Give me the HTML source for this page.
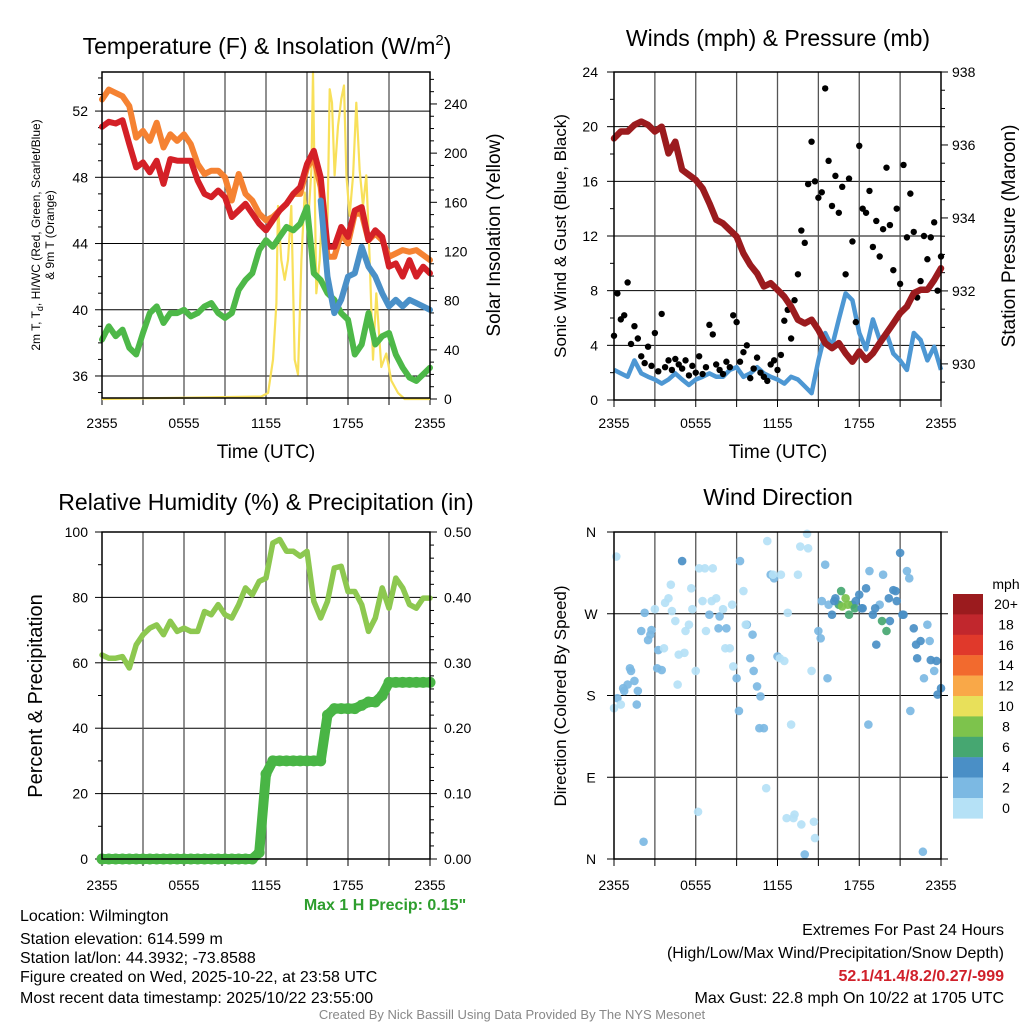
<!DOCTYPE html>
<html><head><meta charset="utf-8">
<style>
html,body{margin:0;padding:0;background:#fff;}
svg{display:block;font-family:"Liberation Sans",Arial,sans-serif;}
</style></head>
<body>
<svg id="chart" width="1024" height="1024" viewBox="0 0 1024 1024" xmlns="http://www.w3.org/2000/svg">
<rect width="1024" height="1024" fill="#fff"/>
<g id="p1"></g>
<g id="p2"></g>
<g id="p3"></g>
<g id="p4"></g>
<g id="txt">
<text x="267" y="54" font-size="23" text-anchor="middle">Temperature (F) &amp; Insolation (W/m<tspan dy="-9" font-size="15">2</tspan><tspan dy="9">)</tspan></text>
<text x="778" y="46" font-size="23" text-anchor="middle">Winds (mph) &amp; Pressure (mb)</text>
<text x="266" y="510" font-size="23" text-anchor="middle">Relative Humidity (%) &amp; Precipitation (in)</text>
<text x="778" y="505" font-size="23" text-anchor="middle">Wind Direction</text>
<text x="266" y="458" font-size="19" text-anchor="middle">Time (UTC)</text>
<text x="778" y="458" font-size="19" text-anchor="middle">Time (UTC)</text>
<text transform="translate(40,235) rotate(-90)" font-size="12" text-anchor="middle">2m T, T<tspan dy="3" font-size="9">d</tspan><tspan dy="-3">, HI/WC (Red, Green, Scarlet/Blue)</tspan></text>
<text transform="translate(54,235) rotate(-90)" font-size="12" text-anchor="middle">&amp; 9m T (Orange)</text>
<text transform="translate(500,235) rotate(-90)" font-size="19" text-anchor="middle">Solar Insolation (Yellow)</text>
<text transform="translate(566,236) rotate(-90)" font-size="17" text-anchor="middle">Sonic Wind &amp; Gust (Blue, Black)</text>
<text transform="translate(1015,236) rotate(-90)" font-size="19" text-anchor="middle">Station Pressure (Maroon)</text>
<text transform="translate(42,696) rotate(-90)" font-size="20" text-anchor="middle">Percent &amp; Precipitation</text>
<text transform="translate(566,696) rotate(-90)" font-size="17" text-anchor="middle">Direction (Colored By Speed)</text>
<text x="385" y="910" font-size="16" font-weight="bold" fill="#2e9e2e" text-anchor="middle">Max 1 H Precip: 0.15"</text>
<g font-size="16" fill="#000">
<text x="20" y="921">Location: Wilmington</text>
<text x="20" y="944">Station elevation: 614.599 m</text>
<text x="20" y="963">Station lat/lon: 44.3932; -73.8588</text>
<text x="20" y="982">Figure created on Wed, 2025-10-22, at 23:58 UTC</text>
<text x="20" y="1003">Most recent data timestamp: 2025/10/22 23:55:00</text>
</g>
<g font-size="16" text-anchor="end">
<text x="1004" y="935">Extremes For Past 24 Hours</text>
<text x="1004" y="958">(High/Low/Max Wind/Precipitation/Snow Depth)</text>
<text x="1004" y="981" font-weight="bold" fill="#d0202a">52.1/41.4/8.2/0.27/-999</text>
<text x="1004" y="1003">Max Gust: 22.8 mph On 10/22 at 1705 UTC</text>
</g>
<text x="512" y="1019" font-size="13" fill="#888" text-anchor="middle">Created By Nick Bassill Using Data Provided By The NYS Mesonet</text>
</g>
</svg>
<script>
const timeLabels = ["2355","0555","1155","1755","2355"];
const tempF = [51.05,51.35,51.25,51.45,50.0,48.6,48.9,48.3,49.0,47.6,49.1,49.0,49.0,49.0,47.8,47.0,46.8,47.2,46.8,45.6,46.0,46.4,45.8,45.2,44.8,45.4,46.0,46.4,47.0,47.4,48.8,49.6,48.0,43.8,43.8,45.0,44.4,46.0,46.2,44.2,44.8,44.4,42.6,42.8,42.0,43.0,42.0,42.6,42.2];
const temp9m = [52.7,53.3,53.1,52.9,52.3,50.4,50.8,50.2,51.3,49.8,50.6,50.2,50.6,50.0,48.8,48.2,48.4,48.4,48.0,46.6,48.2,47.0,46.6,45.8,45.4,45.6,46.0,46.4,47.0,47.0,48.6,49.2,47.4,43.2,43.2,44.6,44.0,45.8,45.8,44.2,44.6,44.2,43.2,43.4,43.6,43.5,43.6,43.3,43.0];
const dewF = [38.2,39.0,38.4,38.8,37.7,37.3,38.6,39.8,40.2,39.2,39.8,39.8,40.0,39.6,39.8,40.2,40.4,39.8,39.5,39.8,41.2,41.8,42.2,43.6,44.2,43.8,44.4,45.0,44.8,45.2,46.2,42.2,41.8,41.0,40.6,39.8,39.4,37.3,37.9,39.8,37.9,38.4,38.6,37.3,36.5,35.9,35.7,36.1,36.5];
const hiwcF = [null,null,null,null,null,null,null,null,null,null,null,null,null,null,null,null,null,null,null,null,null,null,null,null,null,null,null,null,null,null,null,null,46.6,42.0,39.8,40.6,42.0,42.2,43.8,42.6,42.0,41.0,40.2,40.6,40.2,40.6,40.4,40.2,40.0];
const solarHours = [0,11.66,12.15,12.51,12.76,12.88,13.12,13.37,13.61,13.85,14.1,14.34,14.59,14.83,15.07,15.32,15.44,15.68,15.93,16.17,16.41,16.66,16.83,17.02,17.27,17.51,17.71,17.88,18.12,18.37,18.61,18.85,19.1,19.34,19.59,19.83,20.07,20.44,20.8,21.17,21.66,22.15,24];
const solarWm2 = [0,2,5,32,78,157,113,97,113,157,32,20,113,168,141,187,266,86,113,168,86,252,241,182,222,244,255,182,149,182,241,187,157,182,113,32,86,26,37,15,5,0,0];
const windMph = [2.2,1.95,1.7,2.9,1.95,1.7,1.5,1.2,1.5,1.95,1.5,1.1,1.5,1.7,1.95,1.7,1.7,2.2,2.4,1.7,1.95,2.4,1.95,1.7,1.5,1.2,1.7,1.5,1.0,0.5,2.9,4.9,3.9,5.9,7.8,7.3,4.9,3.7,5.9,4.4,4.9,3.4,2.9,2.2,4.9,4.4,2.9,3.9,2.2];
const pressureMb = [936.18,936.37,936.37,936.55,936.64,936.55,936.37,936.50,935.77,936.09,935.32,935.18,935.04,934.81,934.40,933.95,933.85,933.67,933.49,933.03,932.71,932.48,932.12,932.21,932.03,931.84,931.57,931.21,931.11,931.21,930.93,930.57,930.43,930.57,930.29,930.06,930.34,930.11,930.29,930.57,930.84,931.11,931.39,931.57,931.94,932.03,932.03,932.30,932.62];
const gustMph = [4.7,7.8,5.9,6.2,8.6,4.1,5.4,4.5,3.2,2.7,3.9,2.5,4.9,2.1,6.3,2.4,2.9,2.2,3.0,2.6,2.3,2.9,1.8,2.5,2.0,3.2,1.9,2.4,5.5,4.8,2.6,2.2,1.9,2.8,2.4,6.2,5.7,2.8,3.5,4.0,1.6,2.3,3.1,2.0,1.7,1.4,2.6,2.9,2.2,3.3,5.8,6.6,4.5,7.3,9.2,12.4,11.5,15.8,18.9,16.0,14.8,15.2,22.8,17.5,14.2,16.4,13.7,15.6,9.2,16.2,11.6,5.7,18.6,14.0,13.7,15.3,11.2,13.1,10.5,12.5,17.0,12.8,9.5,14.0,8.5,17.2,11.9,15.1,12.3,7.5,8.7,12.0,10.3,11.9,13.0,8.0,10.5];
const rhPct = [62.4,61.4,61.4,61.9,58.4,65.5,68.6,70.6,71.6,68.6,72.7,69.6,70.6,69.6,69.6,75.7,74.7,77.8,74.7,73.7,77.8,82.9,80.8,84.9,85.9,96.6,97.7,94.1,94.1,92.6,94.1,78.8,73.7,78.8,89.0,89.5,81.8,81.8,77.8,69.6,73.7,82.9,76.7,85.9,82.9,77.8,76.7,79.8,79.8];
const precipIn = [0,0,0,0,0,0,0,0,0,0,0,0,0,0,0,0,0,0,0,0,0,0,0,0.01,0.13,0.15,0.15,0.15,0.15,0.15,0.15,0.15,0.15,0.22,0.23,0.23,0.23,0.23,0.235,0.24,0.24,0.25,0.27,0.27,0.27,0.27,0.27,0.27,0.27];
const dirDeg = [166,177,170,185,192,207,196,185,251,271,241,252,275,230,208,282,287,273,262,225,328,251,258,275,207,320,284,251,269,320,287,267,275,254,232,212,199,328,295,258,221,207,190,179,144,350,313,309,223,313,218,271,148,49,313,38,5,342,207,23,251,284,324,280,269,287,280,278,287,269,280,284,291,276,298,317,269,236,280,313,251,262,296,284,337,269,317,163,254,221,240,199,258,219,207,181,188];
const dirSpeed = [1.5,2,1.5,3,2.5,3,3.5,3,3,3,2.5,2.5,1.5,3,3,1,1,1,1,1,4,1,1.5,1,1.5,1,1,1,3,1,1,3,1,3,1,1,3,3,1,2.5,3,2.5,3,3,2.5,1,3,3.5,3,1,1,1,1,1,1,1,3,1,1,1,3,3,3,3.5,4,5,7,8.5,9,7,6.5,5,4.5,4.5,4.5,3.5,4,4.5,3.5,3.5,6.5,4.5,4.5,4.5,4.5,4,3,3,4,4.5,4,3,3,4,3.5,4,4];
const dirDeg2 = [333,188,210,170,19,247,210,232,302,192,227,298,52,320,284,254,232,280,163,258,247,144,78,313,221,45,45,344,358,41,243,199,284,295,280,276,276,148,276,262,287,295,269,309,236,8,240,218];
const dirSpeed2 = [1,3,3.5,2.5,3,3,3,1,1,1,1,1,1,1,1,2.5,1,1,3,1,2.5,3,1,1,1,1,1,1,1,1,3,3.5,4,6.5,8,6.5,4.5,3.5,4.5,6.5,4.5,4.5,4.5,3,4.5,3,3,4.5];
const cbLabels = ["20+","18","16","14","12","10","8","6","4","2","0"];
const cbColors = ["#9b1b1e","#c1272d","#e0392b","#f26a2e","#f9a848","#e8e05a","#7dc34c","#46a771","#4a8fc6","#7cb9e3","#b5e1f6"];

const NS="http://www.w3.org/2000/svg";
function mk(parent,tag,attrs){const e=document.createElementNS(NS,tag);for(const k in attrs)e.setAttribute(k,attrs[k]);parent.appendChild(e);return e;}
function lin(d0,d1,r0,r1){return v=>r0+(v-d0)*(r1-r0)/(d1-d0);}

function frame(g,x0,x1,y0,y1,xLabelY){
  const xs=lin(0,24,x0,x1);
  for(let h=3;h<24;h+=3){const l=mk(g,'line',{x1:xs(h),x2:xs(h),y1:y0,y2:y1,stroke:'#555','stroke-width':1.3});
    }
  for(let h=0;h<=24;h+=3){mk(g,'line',{x1:xs(h),x2:xs(h),y1:y1,y2:y1+7,stroke:'#000','stroke-width':1});}
  timeLabels.forEach((t,i)=>{const e=mk(g,'text',{x:xs(i*6),y:xLabelY,'font-size':14,'text-anchor':'middle'});e.textContent=t;
    });
  return xs;
}
function border(g,x0,x1,y0,y1){const r=mk(g,'rect',{x:x0,y:y0,width:x1-x0,height:y1-y0,fill:'none',stroke:'#000','stroke-width':1.5});
  }
function hgrid(g,x0,x1,y){mk(g,'line',{x1:x0,x2:x1,y1:y,y2:y,stroke:'#000','stroke-width':1});}
function ytick(g,x,y,len,label,anchor,lx,size){mk(g,'line',{x1:x,x2:x+len,y1:y,y2:y,stroke:'#000','stroke-width':1});
  if(label!==null){const e=mk(g,'text',{x:lx,y:y+5,'font-size':size||14,'text-anchor':anchor});e.textContent=label;
    }}
function pathFrom(xs,ys,vals,step){let d='',pen=false;vals.forEach((v,i)=>{if(v===null){pen=false;return;}d+=(pen?'L':'M')+xs(i*step).toFixed(1)+','+ys(v).toFixed(1);pen=true;});return d;}

(function(){
  const g=document.getElementById('p1');
  const x0=102,x1=430,y0=72,y1=398;
  const ys=lin(34.67,54.36,y1,y0), ss=lin(0,266,399,y0);
  [36,40,44,48,52].forEach(v=>{hgrid(g,x0,x1,ys(v));ytick(g,x0,ys(v),-7,String(v),'end',88);});
  for(let v=35;v<=54;v++){if(v%4)ytick(g,x0,ys(v),-4,null);}
  for(let v=0;v<=260;v+=10){ytick(g,x1,ss(v),v%40?4:7,v%40?null:String(v),'start',444);}
  const xs=frame(g,x0,x1,y0,y1,428);
  const sol=mk(g,'path',{d:solarHours.map((h,i)=>(i?'L':'M')+xs(h).toFixed(1)+','+ss(solarWm2[i]).toFixed(1)).join(''),fill:'none',stroke:'#f8e05a','stroke-width':2.2,'stroke-linejoin':'round'});
  
  const series=[[dewF,'#4db848','dewpoint-line'],[temp9m,'#f58232','temp-9m-line'],[tempF,'#d42027','temp-2m-line'],[hiwcF,'#4a90c8','heat-index-windchill-line']];
  series.forEach(s=>{const p=mk(g,'path',{d:pathFrom(xs,ys,s[0],0.5),fill:'none',stroke:s[1],'stroke-width':6,'stroke-linejoin':'round','stroke-linecap':'round'});
    });
  border(g,x0,x1,y0,y1);
})();

(function(){
  const g=document.getElementById('p2');
  const x0=614,x1=941,y0=72,y1=400;
  const ys=lin(0,24,y1,y0), ps=lin(929.01,938,y1,y0);
  [0,4,8,12,16,20,24].forEach(v=>{if(v&&v<24)hgrid(g,x0,x1,ys(v));ytick(g,x0,ys(v),-7,String(v),'end',598);});
  for(let v=2;v<24;v+=4)ytick(g,x0,ys(v),-4,null);
  for(let v=929.5;v<=938;v+=0.5){const maj=Math.abs(v%2)<0.01;ytick(g,x1,ps(v),maj?7:4,maj?String(v):null,'start',952);}
  const xs=frame(g,x0,x1,y0,y1,428);
  const w=mk(g,'path',{d:pathFrom(xs,ys,windMph,0.5),fill:'none',stroke:'#4d97d3','stroke-width':4.5,'stroke-linejoin':'round'});
  
  gustMph.forEach((v,i)=>{const c=mk(g,'circle',{cx:xs(i*0.25),cy:ys(v),r:3.2,fill:'#000'});
    });
  const p=mk(g,'path',{d:pathFrom(xs,ps,pressureMb,0.5),fill:'none',stroke:'#9b1b1e','stroke-width':6.5,'stroke-linejoin':'round','stroke-linecap':'round'});
  
  border(g,x0,x1,y0,y1);
})();

(function(){
  const g=document.getElementById('p3');
  const x0=102,x1=430,y0=532,y1=859;
  const ys=lin(0,100,y1,y0), ps=lin(0,0.5,y1,y0);
  [0,20,40,60,80,100].forEach(v=>{if(v&&v<100)hgrid(g,x0,x1,ys(v));ytick(g,x0,ys(v),-7,String(v),'end',88);});
  for(let v=10;v<100;v+=20)ytick(g,x0,ys(v),-4,null);
  for(let k=0;k<=25;k++){const v=k*0.02;const maj=k%5===0;ytick(g,x1,ps(v),maj?7:4,maj?v.toFixed(2):null,'start',444);}
  const xs=frame(g,x0,x1,y0,y1,890);
  const rh=mk(g,'path',{d:pathFrom(xs,ys,rhPct,0.5),fill:'none',stroke:'#8dc850','stroke-width':5.5,'stroke-linejoin':'round','stroke-linecap':'round'});
  
  const pr=mk(g,'path',{d:pathFrom(xs,ps,precipIn,0.5),fill:'none',stroke:'#49b545','stroke-width':10,'stroke-linejoin':'round','stroke-linecap':'round'});
  
  precipIn.forEach((v,i)=>{const c=mk(g,'circle',{cx:xs(i*0.5),cy:ps(v),r:5.5,fill:'#49b545'});
    });
  border(g,x0,x1,y0,y1);
})();

(function(){
  const g=document.getElementById('p4');
  const x0=614,x1=941,y0=532,y1=859;
  const ys=lin(0,360,y1,y0);
  const dl=['N','E','S','W','N'];
  [0,90,180,270,360].forEach((v,i)=>{if(v&&v<360)hgrid(g,x0,x1,ys(v));ytick(g,x0,ys(v),-7,dl[i],'middle',591);
    ytick(g,x1,ys(v),7,null);});
  const xs=frame(g,x0,x1,y0,y1,890);
  function col(s){const idx=Math.min(10,Math.floor(s/2));return cbColors[10-idx];}
  dirDeg.forEach((d,i)=>{const c=mk(g,'circle',{cx:xs(i*0.25),cy:ys(d),r:4.3,fill:col(dirSpeed[i]),'fill-opacity':0.92});
    });
  dirDeg2.forEach((d,i)=>{const c=mk(g,'circle',{cx:xs(i*0.5+0.17),cy:ys(d),r:4.3,fill:col(dirSpeed2[i]),'fill-opacity':0.92});
    });
  border(g,x0,x1,y0,y1);
  const cb=mk(g,'g',{});
  
  const t=mk(cb,'text',{x:1006,y:589,'font-size':14,'text-anchor':'middle'});t.textContent='mph';
  cbColors.forEach((c,i)=>{const r=mk(cb,'rect',{x:953,y:594+i*20.4,width:30,height:20.6,fill:c});
    
    const l=mk(cb,'text',{x:1006,y:594+i*20.4+15,'font-size':14,'text-anchor':'middle'});l.textContent=cbLabels[i];
    });
})();
</script>
</body></html>
